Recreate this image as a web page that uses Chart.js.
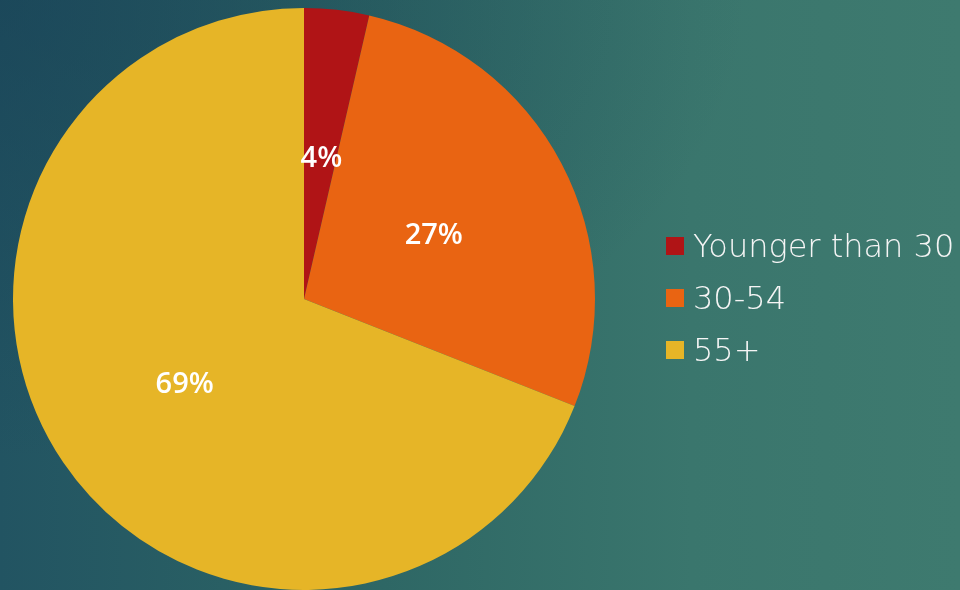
<!DOCTYPE html>
<html lang="en">
<head>
    <meta charset="UTF-8" />
    <title>Age Distribution</title>
    <script src="https://cdn.jsdelivr.net/npm/chart.js"></script>
    <style>
        body {
            margin: 0;
            padding: 0;
            width: 960px;
            height: 590px;
            overflow: hidden;
            background:
                radial-gradient(ellipse at 0% 0%, rgba(22, 62, 84, 0.55) 0%, rgba(22, 62, 84, 0) 55%),
                linear-gradient(90deg, #225462 0%, #2e6765 40%, #3a766d 72%, #3e7a6f 100%);
            position: relative;
        }
        .chart-box {
            position: absolute;
            left: 0;
            top: 0;
            width: 960px;
            height: 590px;
        }
        /* Legend */
        .legend {
            position: absolute;
            left: 666px;
            top: 220px;
            font-family: 'DejaVu Sans', sans-serif;
            font-weight: 200;
            font-size: 32px;
            color: #f5f5f5;
        }
        .legend div {
            height: 52px;
            display: flex;
            align-items: center;
        }
        .legend span.box {
            display: inline-block;
            width: 18px;
            height: 18px;
            margin-right: 9px;
        }
    </style>
</head>
<body>

<div class="chart-box">
    <canvas id="pieChart" width="960" height="590"></canvas>
</div>
<div class="legend" id="legend"></div>

<script>
    const categories = ['Younger than 30', '30-54', '55+'];
    const shares = [3.6, 27.4, 69];
    const shareLabels = ['4%', '27%', '69%'];
    const colors = ['#b01416', '#e96412', '#e6b527'];

    // slice labels, drawn at the middle of each slice
    const sliceLabels = {
        id: 'sliceLabels',
        afterDatasetsDraw(chart) {
            const ctx = chart.ctx;
            const meta = chart.getDatasetMeta(0);
            ctx.save();
            ctx.fillStyle = '#ffffff';
            ctx.font = '600 29px "Open Sans", sans-serif';
            ctx.textAlign = 'center';
            ctx.textBaseline = 'middle';
            meta.data.forEach((arc, i) => {
                const p = arc.tooltipPosition();
                ctx.fillText(shareLabels[i], p.x + 1, p.y + 4);
            });
            ctx.restore();
        }
    };

    new Chart(document.getElementById('pieChart').getContext('2d'), {
        type: 'pie',
        data: {
            labels: categories,
            datasets: [{ data: shares, backgroundColor: colors, borderWidth: 0 }]
        },
        options: {
            responsive: false,
            animation: false,
            layout: { padding: { left: 12, right: 364, top: 8, bottom: 0 } },
            plugins: { legend: { display: false }, tooltip: { enabled: false } }
        },
        plugins: [sliceLabels]
    });

    document.getElementById('legend').innerHTML = categories.map((c, i) =>
        `<div><span class="box" style="background:${colors[i]}"></span>${c}</div>`
    ).join('');
</script>

</body>
</html>
